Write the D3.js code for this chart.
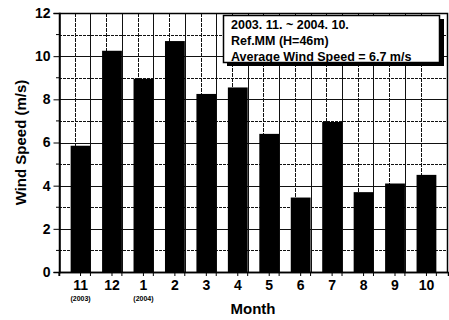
<!DOCTYPE html>
<html>
<head>
<meta charset="utf-8">
<script src="https://cdn.jsdelivr.net/npm/d3@7"></script>
<style>
  body { margin: 0; background: #fff; }
  text { font-family: "Liberation Sans", Arial, sans-serif; font-weight: bold; fill: #000; }
</style>
</head>
<body>
<svg id="chart" width="449" height="320"></svg>
<script>
let months = ["11", "12", "1", "2", "3", "4", "5", "6", "7", "8", "9", "10"];
let yearNotes = ["(2003)", "", "(2004)", "", "", "", "", "", "", "", "", ""];
let speeds = [5.85, 10.25, 8.95, 10.7, 8.25, 8.55, 6.4, 3.45, 6.95, 3.7, 4.1, 4.5];
let legendLines = ["2003. 11. ~ 2004. 10.", "Ref.MM (H=46m)", "Average Wind Speed = 6.7 m/s"];
let yTicks = [0, 2, 4, 6, 8, 10, 12];

let margin = { left: 59, right: 1, top: 13, bottom: 48 };
let width = 449, height = 320;
let svg = d3.select("#chart");

let x = d3.scaleBand()
  .domain(months)
  .range([margin.left, width - margin.right])
  .padding(0.37);
let y = d3.scaleLinear()
  .domain([0, 12])
  .range([height - margin.bottom, margin.top]);

let plotL = margin.left, plotR = width - margin.right - 1;
let step = x.step();

// grid: every 1 m/s and every half month
let grid = svg.append("g").attr("stroke", "#111").attr("stroke-width", 1);
grid.selectAll(".hg")
  .data(d3.range(1, 12))
  .enter().append("line")
  .attr("x1", plotL).attr("x2", plotR)
  .attr("y1", d => Math.round(y(d)) + 0.5).attr("y2", d => Math.round(y(d)) + 0.5)
  .attr("stroke-dasharray", d => d % 2 ? "3,1" : null);
grid.selectAll(".vg")
  .data(d3.range(1, 24))
  .enter().append("line")
  .attr("x1", d => Math.round(plotL + d * step / 2) + 0.5)
  .attr("x2", d => Math.round(plotL + d * step / 2) + 0.5)
  .attr("y1", y(12)).attr("y2", y(0))
  .attr("stroke-dasharray", d => d % 2 ? "4,1" : null);

// frame
svg.append("rect")
  .attr("x", plotL + 0.5).attr("y", Math.round(y(12)) + 0.5)
  .attr("width", plotR - plotL).attr("height", Math.round(y(0)) - Math.round(y(12)))
  .attr("fill", "none").attr("stroke", "#000").attr("stroke-width", 1.5);

// bars
svg.selectAll(".bar")
  .data(speeds)
  .enter().append("rect")
  .attr("x", (d, i) => x(months[i]))
  .attr("width", x.bandwidth())
  .attr("y", d => y(d))
  .attr("height", d => y(0) - y(d))
  .attr("fill", "#000");

// y axis
let yAxis = d3.axisLeft(y).tickValues(yTicks).tickSize(6).tickFormat(d3.format("d"));
let gy = svg.append("g").attr("transform", `translate(${plotL + 0.5},0)`).call(yAxis);
gy.select(".domain").attr("stroke-width", 1.5);
gy.selectAll("text").style("font-size", "14px").attr("x", -9);
// minor y ticks
svg.append("g").selectAll("line")
  .data(d3.range(1, 12, 2))
  .enter().append("line")
  .attr("x1", plotL - 3).attr("x2", plotL)
  .attr("y1", d => y(d)).attr("y2", d => y(d))
  .attr("stroke", "#000");

// x axis
let xAxis = d3.axisBottom(x).tickSize(4).tickPadding(4);
let gx = svg.append("g").attr("transform", `translate(0,${y(0)})`).call(xAxis);
gx.select(".domain").attr("stroke-width", 1.5);
gx.selectAll("text").style("font-size", "14px");
svg.append("g").selectAll("line")
  .data(d3.range(0, 13))
  .enter().append("line")
  .attr("x1", d => plotL + d * step).attr("x2", d => plotL + d * step)
  .attr("y1", y(0)).attr("y2", y(0) + 4)
  .attr("stroke", "#000");

svg.append("g").selectAll("text")
  .data(yearNotes)
  .enter().append("text")
  .attr("x", (d, i) => x(months[i]) + x.bandwidth() / 2)
  .attr("y", 301)
  .attr("text-anchor", "middle")
  .style("font-size", "7px")
  .style("fill", "#000")
  .text(d => d);

// axis titles
svg.append("text")
  .attr("x", (plotL + plotR) / 2)
  .attr("y", 314)
  .attr("text-anchor", "middle")
  .style("font-size", "15px")
  .text("Month");
svg.append("text")
  .attr("transform", `translate(26,${(y(0) + y(12)) / 2}) rotate(-90)`)
  .attr("text-anchor", "middle")
  .style("font-size", "15px")
  .text("Wind Speed (m/s)");

// legend box with shadow
let lg = svg.append("g");
lg.append("rect").attr("x", 227).attr("y", 19).attr("width", 217).attr("height", 47).attr("fill", "#000");
lg.append("rect").attr("x", 223.5).attr("y", 15.5).attr("width", 216).attr("height", 47)
  .attr("fill", "#fff").attr("stroke", "#000").attr("stroke-width", 1.5);
lg.selectAll("text")
  .data(legendLines)
  .enter().append("text")
  .attr("x", 231)
  .attr("y", (d, i) => 29 + i * 16)
  .style("font-size", "12.5px")
  .text(d => d);
</script>
</body>
</html>
